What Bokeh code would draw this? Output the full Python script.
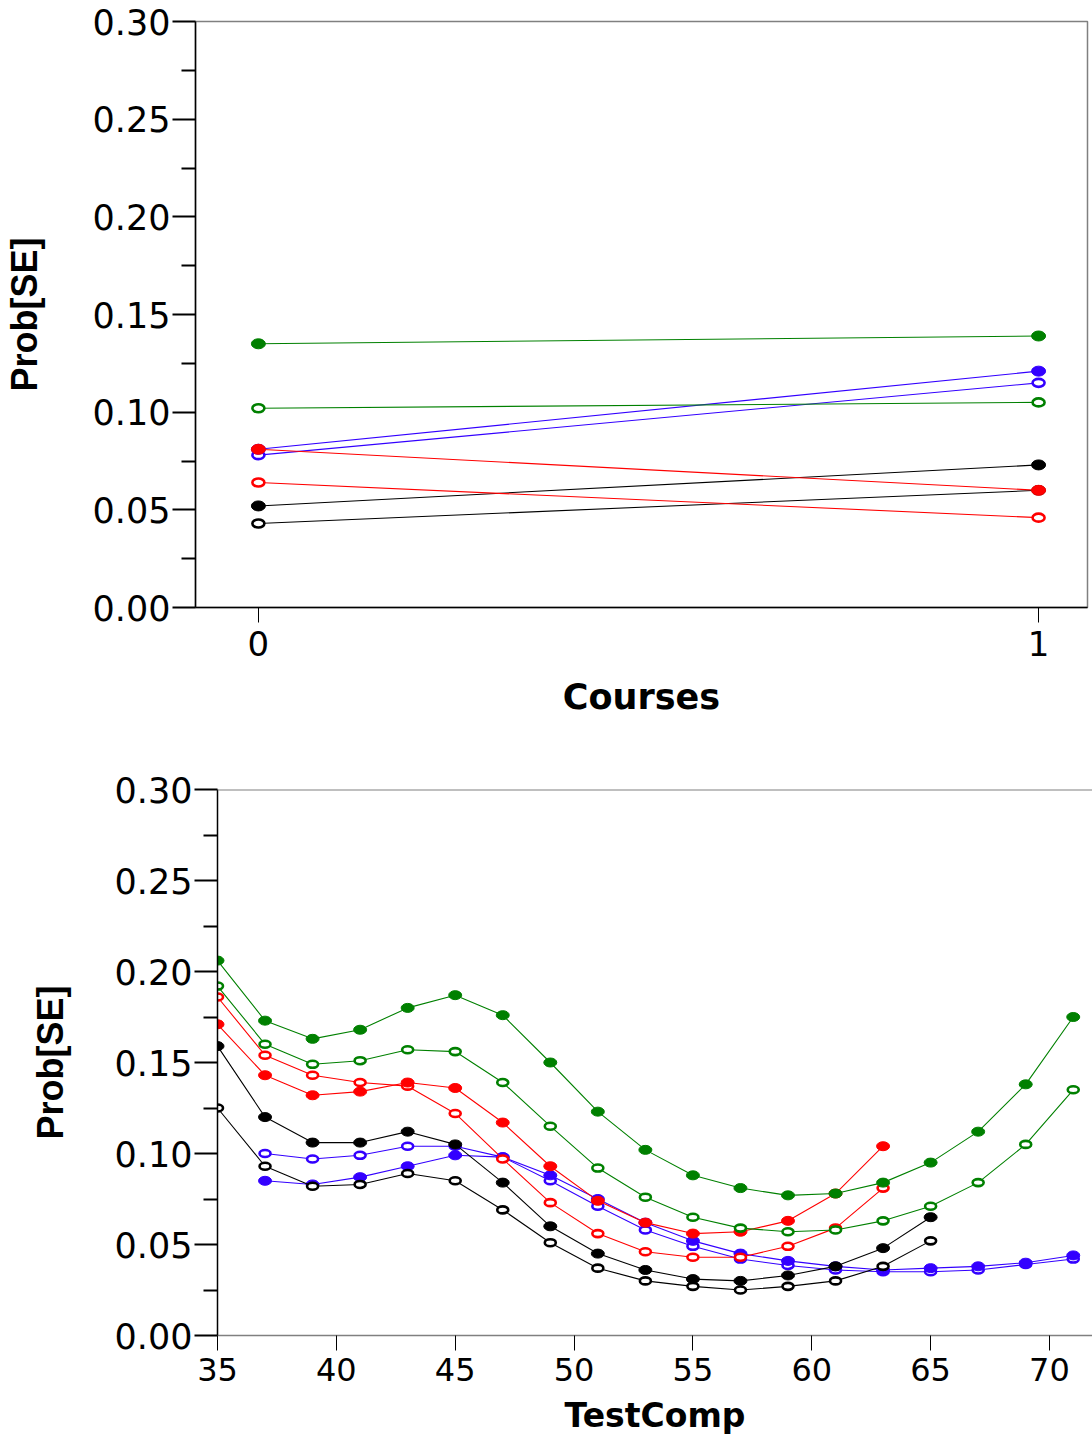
from bokeh.plotting import figure
from bokeh.models import FixedTicker, PrintfTickFormatter, Span, Range1d
from bokeh.embed import file_html
from bokeh.resources import INLINE

# ---------------- data: top panel (Courses) ----------------
courses = [0, 1]
top_black_filled = [0.052, 0.073]
top_black_open = [0.043, 0.060]
top_blue_filled = [0.081, 0.121]
top_blue_open = [0.078, 0.115]
top_red_filled = [0.081, 0.060]
top_red_open = [0.064, 0.046]
top_green_filled = [0.135, 0.139]
top_green_open = [0.102, 0.105]

# ---------------- data: bottom panel (TestComp) ----------------
testcomp = [35, 37, 39, 41, 43, 45, 47, 49, 51, 53, 55, 57, 59, 61, 63, 65, 67, 69, 71]
bot_green_filled = [0.206, 0.173, 0.163, 0.168, 0.180, 0.187, 0.176, 0.150, 0.123, 0.102,
                    0.088, 0.081, 0.077, 0.078, 0.084, 0.095, 0.112, 0.138, 0.175]
bot_green_open = [0.192, 0.160, 0.149, 0.151, 0.157, 0.156, 0.139, 0.115, 0.092, 0.076,
                  0.065, 0.059, 0.057, 0.058, 0.063, 0.071, 0.084, 0.105, 0.135]
# red series: TestComp 35..63
bot_red_x = [35, 37, 39, 41, 43, 45, 47, 49, 51, 53, 55, 57, 59, 61, 63]
bot_red_filled = [0.171, 0.143, 0.132, 0.134, 0.139, 0.136, 0.117, 0.093, 0.074, 0.062,
                  0.056, 0.057, 0.063, 0.078, 0.104]
bot_red_open = [0.186, 0.154, 0.143, 0.139, 0.137, 0.122, 0.097, 0.073, 0.056, 0.046,
                0.043, 0.043, 0.049, 0.059, 0.081]
# black series: TestComp 35..65
bot_black_x = [35, 37, 39, 41, 43, 45, 47, 49, 51, 53, 55, 57, 59, 61, 63, 65]
bot_black_filled = [0.159, 0.120, 0.106, 0.106, 0.112, 0.105, 0.084, 0.060, 0.045, 0.036,
                    0.031, 0.030, 0.033, 0.038, 0.048, 0.065]
bot_black_open = [0.125, 0.093, 0.082, 0.083, 0.089, 0.085, 0.069, 0.051, 0.037, 0.030,
                  0.027, 0.025, 0.027, 0.030, 0.038, 0.052]
# blue series: TestComp 37..71
bot_blue_x = [37, 39, 41, 43, 45, 47, 49, 51, 53, 55, 57, 59, 61, 63, 65, 67, 69, 71]
bot_blue_filled = [0.085, 0.083, 0.087, 0.093, 0.099, 0.098, 0.088, 0.075, 0.062, 0.052,
                   0.045, 0.041, 0.038, 0.036, 0.037, 0.038, 0.040, 0.044]
bot_blue_open = [0.100, 0.097, 0.099, 0.104, 0.104, 0.098, 0.085, 0.071, 0.058, 0.049,
                 0.042, 0.0385, 0.036, 0.035, 0.035, 0.036, 0.039, 0.042]

y_ticks = [0.0, 0.05, 0.10, 0.15, 0.20, 0.25, 0.30]
y_minor = [0.025, 0.075, 0.125, 0.175, 0.225, 0.275]
top_x_ticks = [0, 1]
bot_x_ticks = [35, 40, 45, 50, 55, 60, 65, 70]

GREEN = "#008000"
RED = "#FF0000"
BLUE = "#3300FF"
BLACK = "#000000"

TICK_FONT = "DejaVu Sans"
LABEL_FONT = "Liberation Sans"


def style(p, xticks, xlabel, bottom_axis_color, ylab_standoff, xtick_size, xlab_size,
          xtick_standoff, xlab_standoff):
    p.xgrid.visible = False
    p.ygrid.visible = False
    p.background_fill_color = "white"
    p.border_fill_color = "white"
    ya = p.yaxis[0]
    ya.ticker = FixedTicker(ticks=y_ticks, minor_ticks=y_minor)
    ya.formatter = PrintfTickFormatter(format="%.2f")
    ya.axis_line_color = "black"
    ya.axis_line_width = 1.5
    ya.major_tick_in = 0
    ya.major_tick_out = 23
    ya.minor_tick_in = 0
    ya.minor_tick_out = 14
    ya.major_tick_line_width = 2
    ya.minor_tick_line_width = 2
    ya.major_tick_line_color = "black"
    ya.minor_tick_line_color = "black"
    ya.major_label_text_font = TICK_FONT
    ya.major_label_text_font_size = "35px"
    ya.major_label_text_color = "black"
    ya.major_label_standoff = 2
    ya.axis_label = "Prob[SE]"
    ya.axis_label_text_font = LABEL_FONT
    ya.axis_label_text_font_style = "bold"
    ya.axis_label_text_font_size = "36px"
    ya.axis_label_text_color = "black"
    ya.axis_label_standoff = ylab_standoff

    xa = p.xaxis[0]
    xa.ticker = FixedTicker(ticks=xticks, minor_ticks=[])
    xa.axis_line_color = bottom_axis_color
    xa.axis_line_width = 1.5
    xa.major_tick_in = 0
    xa.major_tick_out = 15
    xa.minor_tick_in = 0
    xa.minor_tick_out = 0
    xa.major_tick_line_width = 1
    xa.major_tick_line_color = "black"
    xa.major_label_text_font = TICK_FONT
    xa.major_label_text_font_size = xtick_size
    xa.major_label_text_color = "black"
    xa.major_label_standoff = xtick_standoff
    xa.axis_label = xlabel
    xa.axis_label_text_font = "DejaVu Sans"
    xa.axis_label_text_font_style = "bold"
    xa.axis_label_text_font_size = xlab_size
    xa.axis_label_text_color = "black"
    xa.axis_label_standoff = xlab_standoff


def series(p, x, vals, color, filled, w, h):
    p.line(x, vals, line_color=color, line_width=1.1)
    if filled:
        p.ellipse(x, vals, width=w, height=h, width_units="screen", height_units="screen",
                  fill_color=color, line_color=color, line_width=1)
    else:
        p.ellipse(x, vals, width=w - 2, height=h - 2, width_units="screen",
                  height_units="screen", fill_color="white", line_color=color,
                  line_width=2.6)


# ---------------- top figure ----------------
p1 = figure(width=1092, height=720, output_backend="svg", toolbar_location=None,
            x_range=Range1d(-0.0806, 1.0627), y_range=Range1d(0, 0.30),
            min_border_left=193, min_border_right=5, min_border_top=21,
            min_border_bottom=113)
p1.outline_line_color = "#808080"
p1.outline_line_width = 1.5
style(p1, top_x_ticks, "Courses", "black", 45, "34px", "35px", 8, 18)

for x_, vals_o, vals_f, col in [(courses, top_blue_open, top_blue_filled, BLUE),
                                (courses, top_black_open, top_black_filled, BLACK),
                                (courses, top_red_open, top_red_filled, RED),
                                (courses, top_green_open, top_green_filled, GREEN)]:
    series(p1, x_, vals_o, col, False, 14, 10)
    series(p1, x_, vals_f, col, True, 14, 10)

# ---------------- bottom figure ----------------
p2 = figure(width=1092, height=717, output_backend="svg", toolbar_location=None,
            x_range=Range1d(35, 71.81), y_range=Range1d(0, 0.30),
            min_border_left=217, min_border_right=0, min_border_top=69,
            min_border_bottom=102)
p2.outline_line_color = None
p2.add_layout(Span(location=0.30, dimension="width", line_color="#808080", line_width=2))
style(p2, bot_x_ticks, "TestComp", "#808080", 41, "32px", "33px", 7, 12)

for x_, vals_o, vals_f, col in [(bot_blue_x, bot_blue_open, bot_blue_filled, BLUE),
                                (bot_black_x, bot_black_open, bot_black_filled, BLACK),
                                (bot_red_x, bot_red_open, bot_red_filled, RED),
                                (testcomp, bot_green_open, bot_green_filled, GREEN)]:
    series(p2, x_, vals_o, col, False, 13, 9)
    series(p2, x_, vals_f, col, True, 13, 9)

open("out.html", "w").write(file_html([p1, p2], INLINE))
